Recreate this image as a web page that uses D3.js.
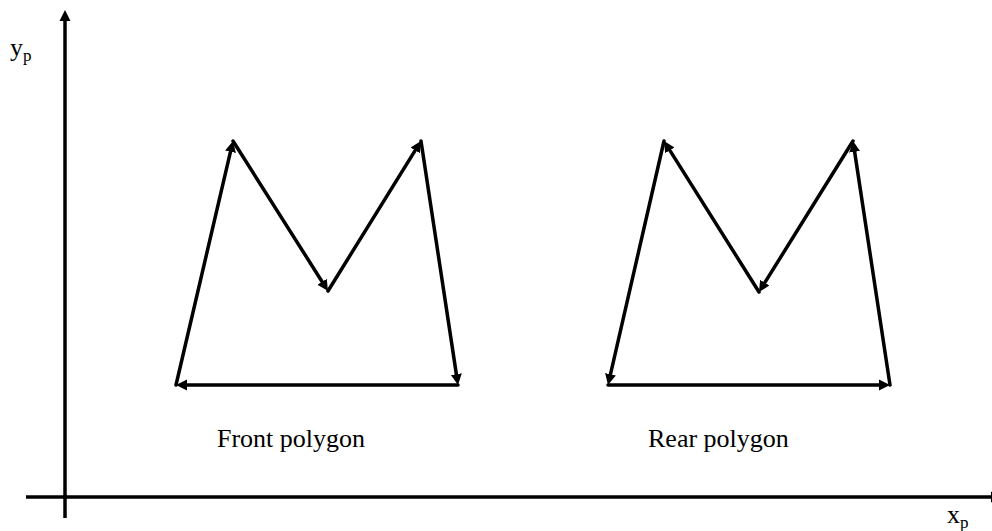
<!DOCTYPE html>
<html>
<head>
<meta charset="utf-8">
<script src="https://cdn.jsdelivr.net/npm/d3@7"></script>
<style>
  body { margin: 0; background: #fff; }
  svg { display: block; }
</style>
</head>
<body>
<div id="root"></div>
<script>
// vertices in order: bottom-left, top-left peak, valley, top-right peak, bottom-right
const frontX = [11.1, 16.8, 26.3, 35.6, 39.3];
const frontY = [11.2, 35.6, 20.6, 35.6, 11.2];
const rearX = [54.3, 59.9, 69.4, 78.8, 82.5];
const rearY = [11.2, 35.6, 20.5, 35.6, 11.2];

// order in which the edges are walked (arrow points at the next vertex)
const frontOrder = [0, 1, 2, 3, 4, 0];
const rearOrder = [1, 0, 4, 3, 2, 1];

const labels = ["Front polygon", "Rear polygon"];
const labelX = [15.2, 58.3];
const labelY = [5.0, 5.0];

const width = 992;
const height = 531;
const serif = "'Liberation Serif', 'Times New Roman', Times, serif";

const xScale = d3.scaleLinear().domain([0, 92.7]).range([65, 992]);
const yScale = d3.scaleLinear().domain([0, 48.7]).range([497, 10]);

let svg = d3.select("#root").append("svg")
  .attr("width", width)
  .attr("height", height);

const arrowLen = 11;

svg.append("defs").append("marker")
  .attr("id", "head")
  .attr("markerUnits", "userSpaceOnUse")
  .attr("viewBox", "0 -6 11 12")
  .attr("refX", 0)
  .attr("refY", 0)
  .attr("markerWidth", 11)
  .attr("markerHeight", 12)
  .attr("orient", "auto")
  .append("path")
  .attr("d", "M0,-5.5L11,0L0,5.5Z")
  .attr("fill", "#000");

// build edges from the vertex arrays, line end pulled back so the head tip sits on the vertex
function edges(xs, ys, order) {
  let out = [];
  for (let i = 0; i < order.length - 1; i++) {
    let a = order[i], b = order[i + 1];
    let x1 = xScale(xs[a]), y1 = yScale(ys[a]);
    let x2 = xScale(xs[b]), y2 = yScale(ys[b]);
    let len = Math.hypot(x2 - x1, y2 - y1);
    out.push({
      x1: x1, y1: y1,
      x2: x2 - (x2 - x1) / len * arrowLen,
      y2: y2 - (y2 - y1) / len * arrowLen
    });
  }
  return out;
}

let axes = svg.append("g").classed("axes", true);

// y axis
axes.append("line")
  .attr("x1", xScale(0)).attr("y1", yScale(-2.1))
  .attr("x2", xScale(0)).attr("y2", yScale(48.7) + arrowLen)
  .attr("stroke", "#000").attr("stroke-width", 3.5)
  .attr("marker-end", "url(#head)");

// x axis (head runs off the right edge)
axes.append("line")
  .attr("x1", xScale(-3.9)).attr("y1", yScale(0))
  .attr("x2", xScale(92.6)).attr("y2", yScale(0))
  .attr("stroke", "#000").attr("stroke-width", 3.5)
  .attr("marker-end", "url(#head)");

let yl = axes.append("text")
  .attr("x", 10).attr("y", 56)
  .attr("font-family", serif)
  .attr("font-size", 26)
  .text("y");
yl.append("tspan").attr("dy", 5).attr("font-size", 17).text("p");

let xl = axes.append("text")
  .attr("x", 947).attr("y", 523)
  .attr("font-family", serif)
  .attr("font-size", 26)
  .text("x");
xl.append("tspan").attr("dy", 5).attr("font-size", 17).text("p");

const allEdges = edges(frontX, frontY, frontOrder).concat(edges(rearX, rearY, rearOrder));

svg.selectAll(".edge").data(allEdges).enter().append("line")
  .attr("class", "edge")
  .attr("x1", d => d.x1).attr("y1", d => d.y1)
  .attr("x2", d => d.x2).attr("y2", d => d.y2)
  .attr("stroke", "#000")
  .attr("stroke-width", 3.5)
  .attr("stroke-linecap", "round")
  .attr("marker-end", "url(#head)");

svg.selectAll(".label").data(labels).enter().append("text")
  .attr("class", "label")
  .attr("x", (d, i) => xScale(labelX[i]))
  .attr("y", (d, i) => yScale(labelY[i]))
  .attr("font-family", serif)
  .attr("font-size", 26)
  .text(d => d);
</script>
</body>
</html>
